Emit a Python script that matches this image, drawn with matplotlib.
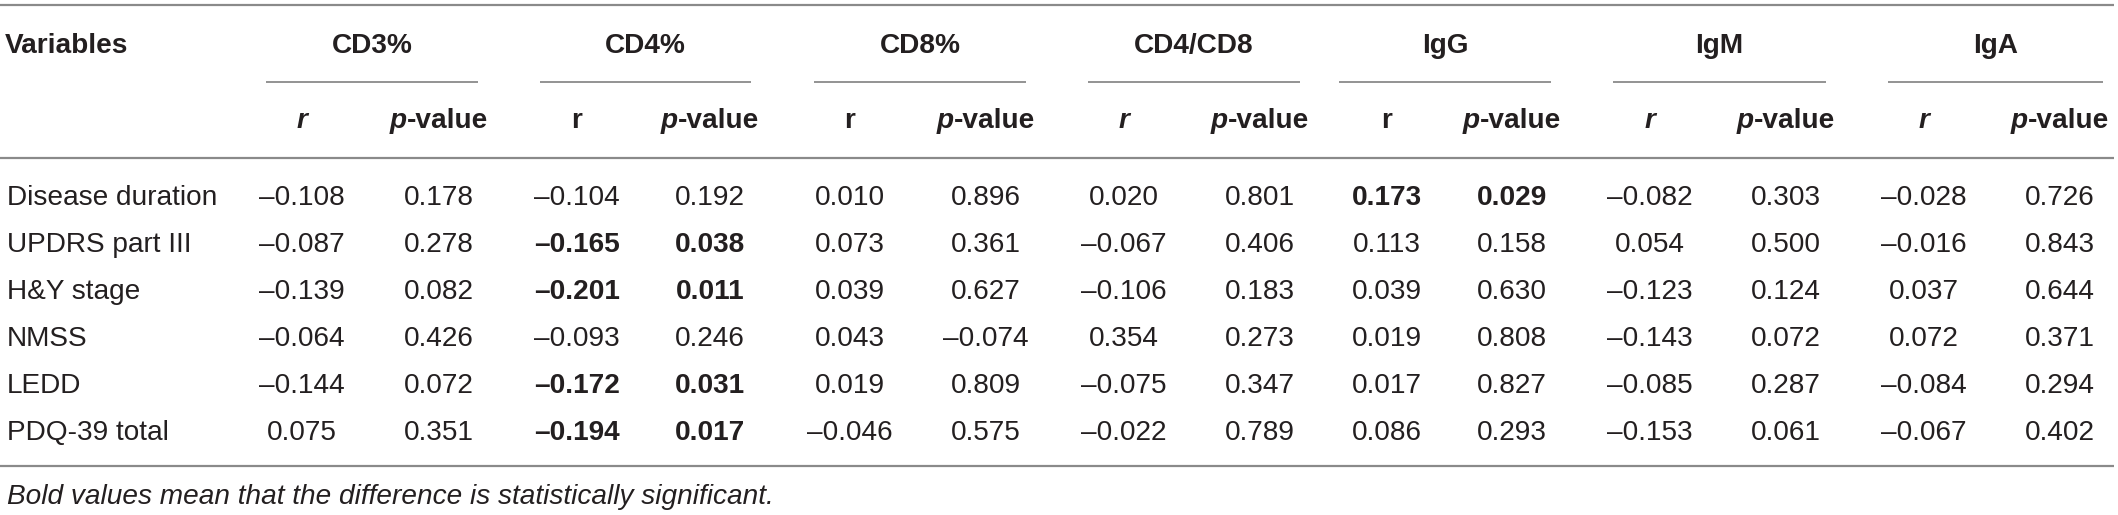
import matplotlib
matplotlib.use("Agg")
import matplotlib.pyplot as plt

# ---------------- data ----------------
variables = ["Disease duration", "UPDRS part III", "H&Y stage", "NMSS", "LEDD", "PDQ-39 total"]
groups = ["CD3%", "CD4%", "CD8%", "CD4/CD8", "IgG", "IgM", "IgA"]
r_italic = [True, False, False, True, False, True, True]

cd3_r = [-0.108, -0.087, -0.139, -0.064, -0.144, 0.075]
cd3_p = [0.178, 0.278, 0.082, 0.426, 0.072, 0.351]
cd4_r = [-0.104, -0.165, -0.201, -0.093, -0.172, -0.194]
cd4_p = [0.192, 0.038, 0.011, 0.246, 0.031, 0.017]
cd8_r = [0.010, 0.073, 0.039, 0.043, 0.019, -0.046]
cd8_p = [0.896, 0.361, 0.627, -0.074, 0.809, 0.575]
ratio_r = [0.020, -0.067, -0.106, 0.354, -0.075, -0.022]
ratio_p = [0.801, 0.406, 0.183, 0.273, 0.347, 0.789]
igg_r = [0.173, 0.113, 0.039, 0.019, 0.017, 0.086]
igg_p = [0.029, 0.158, 0.630, 0.808, 0.827, 0.293]
igm_r = [-0.082, 0.054, -0.123, -0.143, -0.085, -0.153]
igm_p = [0.303, 0.500, 0.124, 0.072, 0.287, 0.061]
iga_r = [-0.028, -0.016, 0.037, 0.072, -0.084, -0.067]
iga_p = [0.726, 0.843, 0.644, 0.371, 0.294, 0.402]

# bold (significant) cells: (row, group)
significant = [(0, 4), (1, 1), (2, 1), (4, 1), (5, 1)]

footnote = "Bold values mean that the difference is statistically significant."

r_cols = [cd3_r, cd4_r, cd8_r, ratio_r, igg_r, igm_r, iga_r]
p_cols = [cd3_p, cd4_p, cd8_p, ratio_p, igg_p, igm_p, iga_p]

# ---------------- layout ----------------
W, H = 2118, 515
r_x = [302, 577, 850, 1124, 1387, 1650, 1924]
p_x = [439, 710, 986, 1260, 1512, 1786, 2060]
span_x = [(266, 478), (540, 751), (814, 1026), (1088, 1300), (1339, 1551), (1613, 1826), (1888, 2103)]
row_base0, row_step = 205, 47
FS = 20.2
FAM = "Liberation Sans"
TXT = "#231f20"
LINE = "#8a8a8a"

fig = plt.figure(figsize=(W / 100, H / 100), dpi=100)
ax = fig.add_axes([0, 0, 1, 1])
ax.set_xlim(0, W)
ax.set_ylim(H, 0)
ax.axis("off")

def fmt(v):
    return f"{v:.3f}".replace("-", "\u2013")

# rules
for y, lw in [(5, 1.6), (158, 1.6), (466, 1.6)]:
    ax.plot([0, 2114], [y, y], color=LINE, lw=lw, solid_capstyle="butt")
for (a, b) in span_x:
    ax.plot([a, b], [82, 82], color=LINE, lw=1.3, solid_capstyle="butt")

# header
ax.text(5, 53, "Variables", ha="left", va="baseline", fontsize=FS, family=FAM,
        weight="bold", color=TXT)
for g, (a, b) in zip(groups, span_x):
    ax.text((a + b) / 2, 53, g, ha="center", va="baseline", fontsize=FS, family=FAM,
            weight="bold", color=TXT)

fig.canvas.draw()
renderer = fig.canvas.get_renderer()

def px_width(s, **kw):
    t = ax.text(0, 0, s, fontsize=FS, family=FAM, **kw)
    w = t.get_window_extent(renderer).width
    t.remove()
    return w

w_p = px_width("p", weight="bold", style="italic")
w_rest = px_width("-value", weight="bold")
for i in range(len(groups)):
    ax.text(r_x[i], 128, "r", ha="center", va="baseline", fontsize=FS, family=FAM,
            weight="bold", style="italic" if r_italic[i] else "normal", color=TXT)
    x0 = p_x[i] - (w_p + w_rest) / 2
    ax.text(x0, 128, "p", ha="left", va="baseline", fontsize=FS, family=FAM,
            weight="bold", style="italic", color=TXT)
    ax.text(x0 + w_p, 128, "-value", ha="left", va="baseline", fontsize=FS, family=FAM,
            weight="bold", color=TXT)

# body
for j, name in enumerate(variables):
    yb = row_base0 + j * row_step
    ax.text(7, yb, name, ha="left", va="baseline", fontsize=FS, family=FAM, color=TXT)
    for i in range(len(groups)):
        bold = (j, i) in significant
        wt = "bold" if bold else "normal"
        ax.text(r_x[i], yb, fmt(r_cols[i][j]), ha="center", va="baseline", fontsize=FS,
                family=FAM, weight=wt, color=TXT)
        ax.text(p_x[i], yb, fmt(p_cols[i][j]), ha="center", va="baseline", fontsize=FS,
                family=FAM, weight=wt, color=TXT)

ax.text(7, 504, footnote, ha="left", va="baseline", fontsize=FS, family=FAM,
        style="italic", color=TXT)

fig.savefig("out.png", dpi=100)
